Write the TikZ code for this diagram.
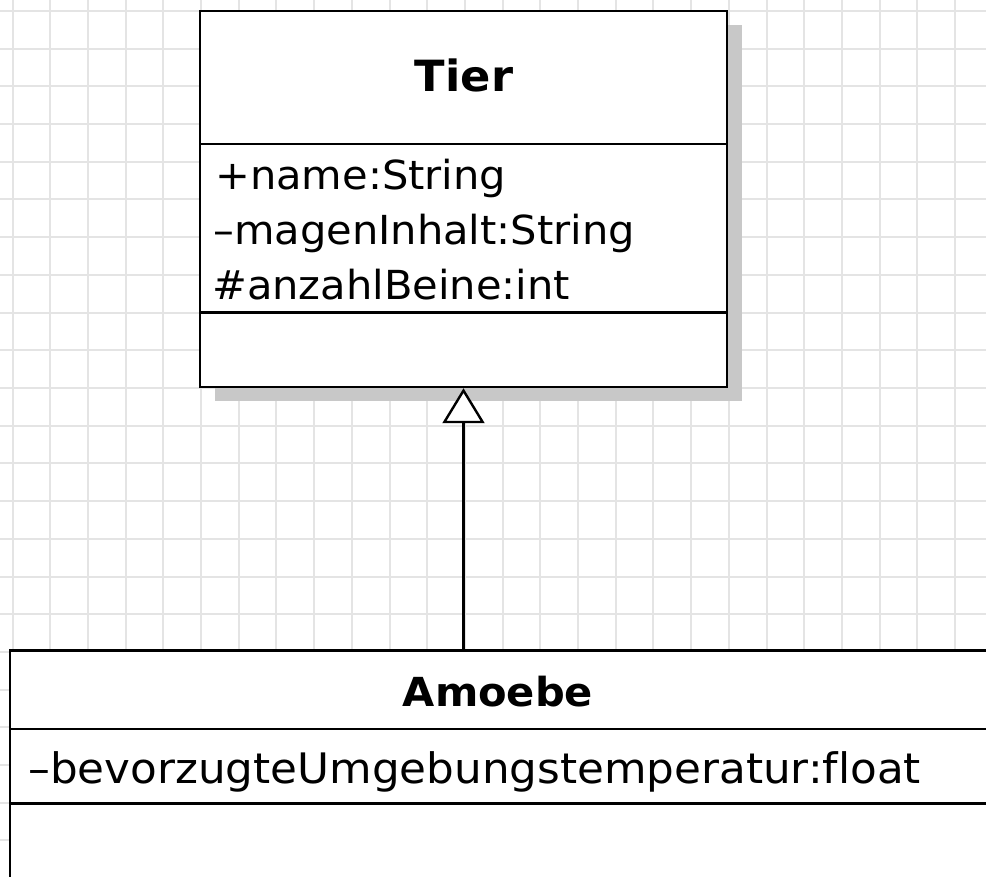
\documentclass[tikz,border=0pt]{standalone}
\usepackage{fontspec}
\setmainfont{DejaVu Sans}[FakeStretch=1.04, Ligatures={NoCommon}]
\usetikzlibrary{arrows.meta}
\definecolor{gridgray}{HTML}{E4E4E4}
\definecolor{shadowgray}{HTML}{C8C8C8}
\tikzset{
  classbox/.style={draw=black, fill=white, line width=2.5pt, rectangle, inner sep=0pt},
  divider/.style={line width=2.4pt},
  attr/.style={anchor=base west, inner sep=0pt, font=\fontsize{40}{48}\selectfont},
  classname/.style={anchor=base, inner sep=0pt, font=\bfseries\fontsize{42}{50}\selectfont},
  inherits/.style={line width=2.2pt, -{Triangle[fill=white, length=35pt, width=42pt, line width=2.4pt]}},
}
\begin{document}
\begin{tikzpicture}[x=1pt, y=-1pt]
  \path[use as bounding box] (0,0) rectangle (986,877);
  \clip (0,0) rectangle (986,877);
  \fill[white] (0,0) rectangle (986,877);
  % background grid
  \foreach \i in {0,...,26}
    \draw[gridgray, line width=2pt] ({12.5+37.7*\i},0) -- ++(0,877);
  \foreach \j in {0,...,23}
    \draw[gridgray, line width=2pt] (0,{11+37.7*\j}) -- ++(986,0);

  % class Tier with drop shadow
  \fill[shadowgray] (214.5,25.5) rectangle (741.5,401.5);
  \node[classbox, minimum width=527pt, minimum height=376pt] (tier) at (463.5,199) {};
  \draw[divider] (200,144) -- (727,144);
  \draw[divider] (200,312.7) -- (727,312.7);
  \node[classname, font=\bfseries\fontsize{43}{50}\selectfont] (tiername) at (464,91.7) {Tier};
  \node[attr] (a1) at (215,190) {+name:String};
  \node[attr] (a2) at (213,245) {–magenInhalt:String};
  \node[attr] (a3) at (212,300) {\#anzahlBeine:int};

  % class Amoebe (runs past the right and bottom edges)
  \node[classbox, minimum width=990pt, minimum height=260pt] (amoebe) at (505,780.7) {};
  \draw[divider] (10,729) -- (1000,729);
  \draw[divider] (10,803.3) -- (1000,803.3);
  \node[classname, font=\bfseries\fontsize{40}{48}\selectfont] (amoebename) at (498,706.7) {Amoebe};
  \node[attr, font=\fontsize{42}{50}\selectfont] (b1) at (28,783.3) {–bevorzugteUmgebungstemperatur:float};

  % generalization
  \draw[inherits] (amoebe.north -| tier.south) -- (tier.south);
\end{tikzpicture}
\end{document}
